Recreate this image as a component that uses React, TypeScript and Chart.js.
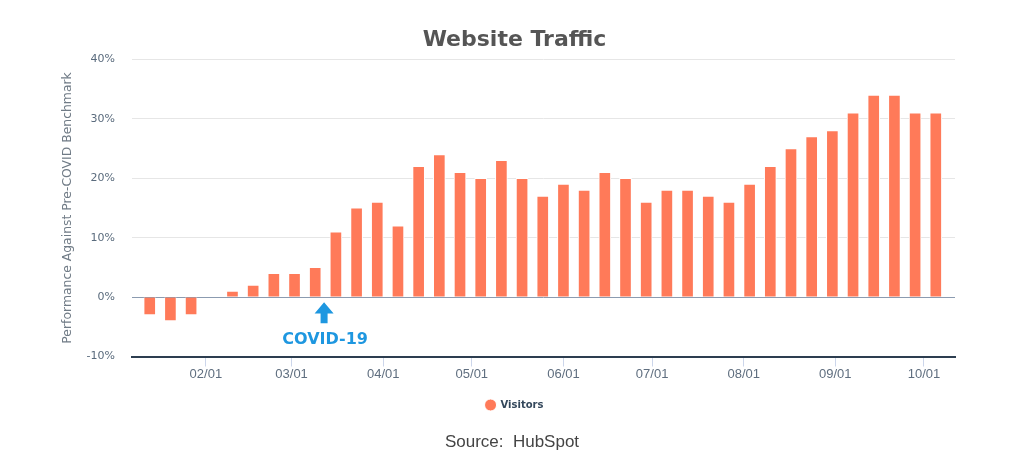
import React, { useEffect, useRef } from "react";
import { Chart, registerables } from "chart.js";

Chart.register(...registerables);

// ---- Data ----
const weekDates: string[] = [
  "2020-01-13", "2020-01-20", "2020-01-27", "2020-02-03", "2020-02-10", "2020-02-17", "2020-02-24",
  "2020-03-02", "2020-03-09", "2020-03-16", "2020-03-23", "2020-03-30", "2020-04-06", "2020-04-13",
  "2020-04-20", "2020-04-27", "2020-05-04", "2020-05-11", "2020-05-18", "2020-05-25", "2020-06-01",
  "2020-06-08", "2020-06-15", "2020-06-22", "2020-06-29", "2020-07-06", "2020-07-13", "2020-07-20",
  "2020-07-27", "2020-08-03", "2020-08-10", "2020-08-17", "2020-08-24", "2020-08-31", "2020-09-07",
  "2020-09-14", "2020-09-21", "2020-09-28", "2020-10-05",
];

const visitors: number[] = [
  -3, -4, -3, 0, 1, 2, 4, 4, 5, 11, 15, 16, 12, 22, 24, 21, 20, 23, 20, 17,
  19, 18, 21, 20, 16, 18, 18, 17, 16, 19, 22, 25, 27, 28, 31, 34, 34, 31, 31,
];

const monthTickDates: string[] = [
  "2020-02-01", "2020-03-01", "2020-04-01", "2020-05-01", "2020-06-01",
  "2020-07-01", "2020-08-01", "2020-09-01", "2020-10-01",
];
const monthTickLabels: string[] = ["02/01", "03/01", "04/01", "05/01", "06/01", "07/01", "08/01", "09/01", "10/01"];

const yTicks: number[] = [-10, 0, 10, 20, 30, 40];

const chartTitle = "Website Traffic";
const seriesName = "Visitors";
const yAxisTitle = "Performance Against Pre-COVID Benchmark";
const sourceText = "Source:\u00a0 HubSpot";

const covidDate = "2020-03-12";
const covidLabel = "COVID-19";

// ---- helpers ----
const dayOfYear = (d: string): number => {
  const t = Date.UTC(+d.slice(0, 4), +d.slice(5, 7) - 1, +d.slice(8, 10));
  return Math.round((t - Date.UTC(2020, 0, 1)) / 86400000);
};

const BAR = "#ff7a59";
const BLUE = "#1e97e0";

export default function App() {
  const canvasRef = useRef<HTMLCanvasElement | null>(null);

  useEffect(() => {
    if (!canvasRef.current) return;
    const xs = weekDates.map(dayOfYear);
    const tickDays = monthTickDates.map(dayOfYear);
    const covidDay = dayOfYear(covidDate);

    const covidPlugin = {
      id: "covidArrow",
      afterDatasetsDraw(chart: any) {
        const { ctx } = chart;
        const xS = chart.scales.x;
        const yS = chart.scales.y;
        const x = xS.getPixelForValue(covidDay);
        const tip = yS.getPixelForValue(-0.85);
        const headBase = yS.getPixelForValue(-2.75);
        const shaftEnd = yS.getPixelForValue(-4.4);
        const labelY = yS.getPixelForValue(-7.2);
        ctx.save();
        ctx.fillStyle = BLUE;
        ctx.beginPath();
        ctx.moveTo(x, tip);
        ctx.lineTo(x + 9.5, headBase);
        ctx.lineTo(x + 3.5, headBase);
        ctx.lineTo(x + 3.5, shaftEnd);
        ctx.lineTo(x - 3.5, shaftEnd);
        ctx.lineTo(x - 3.5, headBase);
        ctx.lineTo(x - 9.5, headBase);
        ctx.closePath();
        ctx.fill();
        ctx.font = "bold 16px 'DejaVu Sans'";
        ctx.textAlign = "center";
        ctx.textBaseline = "middle";
        ctx.fillText(covidLabel, x + 1, labelY);
        ctx.restore();
      },
    };

    const chart = new Chart(canvasRef.current, {
      type: "bar",
      data: {
        datasets: [
          {
            label: seriesName,
            data: xs.map((x, i) => ({ x, y: visitors[i] })),
            backgroundColor: BAR,
            borderColor: "#ffffff",
            borderWidth: 1,
            barThickness: 12,
          } as any,
        ],
      },
      options: {
        animation: false,
        responsive: false,
        events: [],
        layout: { padding: { left: 74, right: 69, top: 0, bottom: 41 } },
        plugins: {
          title: {
            display: true,
            text: chartTitle,
            color: "#555555",
            font: { family: "'DejaVu Sans'", size: 22, weight: "bold" },
            padding: { top: 27, bottom: 6 },
          },
          legend: {
            display: true,
            position: "bottom",
            labels: {
              usePointStyle: true,
              pointStyle: "circle",
              boxHeight: 8.5,
              color: "#33475b",
              font: { family: "'DejaVu Sans'", size: 10, weight: "bold" },
              padding: 17.9,
            },
          },
          tooltip: { enabled: false },
        },
        scales: {
          x: {
            type: "linear",
            offset: false,
            min: xs[0] - 6,
            max: xs[xs.length - 1] + 6.5,
            afterBuildTicks: (scale: any) => {
              scale.ticks = tickDays.map((v) => ({ value: v }));
            },
            ticks: {
              autoSkip: false,
              maxRotation: 0,
              padding: 0,
              color: "#5f6e7f",
              font: { family: "'Liberation Sans'", size: 13 },
              callback: (v: any) => {
                const i = tickDays.indexOf(Number(v));
                return i >= 0 ? monthTickLabels[i] : "";
              },
            },
            grid: {
              display: true,
              drawOnChartArea: false,
              drawTicks: true,
              tickLength: 10,
              tickColor: "#ccd6eb",
              offset: false,
            },
            border: { display: true, color: "#2d3e50", width: 2 },
          },
          y: {
            min: -10,
            max: 40,
            afterBuildTicks: (scale: any) => {
              scale.ticks = yTicks.map((v) => ({ value: v }));
            },
            afterFit: (scale: any) => {
              scale.width = 58;
            },
            ticks: {
              padding: 17,
              color: "#5a6b7d",
              font: { family: "'DejaVu Sans'", size: 11 },
              callback: (v: any) => `${v}%`,
            },
            grid: {
              drawTicks: false,
              color: (c: any) =>
                c.tick && c.tick.value === 0 ? "#8b9bb0" : c.tick && c.tick.value === -10 ? "rgba(0,0,0,0)" : "#e6e6e6",
              lineWidth: 1,
            },
            border: { display: false },
            title: {
              display: true,
              text: yAxisTitle,
              color: "#707b86",
              font: { family: "'DejaVu Sans'", size: 12.4 },
              padding: { top: -13.4, bottom: 0 },
            },
          },
        },
      },
      plugins: [covidPlugin],
    } as any);

    return () => chart.destroy();
  }, []);

  return (
    <div style={{ position: "absolute", left: 0, top: 0, width: 1024, height: 461, background: "#ffffff" }}>
      <canvas ref={canvasRef} width={1024} height={461} style={{ display: "block" }} />
      <div
        style={{
          position: "absolute",
          left: 0,
          width: 1024,
          top: 432,
          textAlign: "center",
          fontFamily: "'Liberation Sans', Arial, sans-serif",
          fontSize: 17,
          lineHeight: "20px",
          color: "#444444",
        }}
      >
        {sourceText}
      </div>
    </div>
  );
}
